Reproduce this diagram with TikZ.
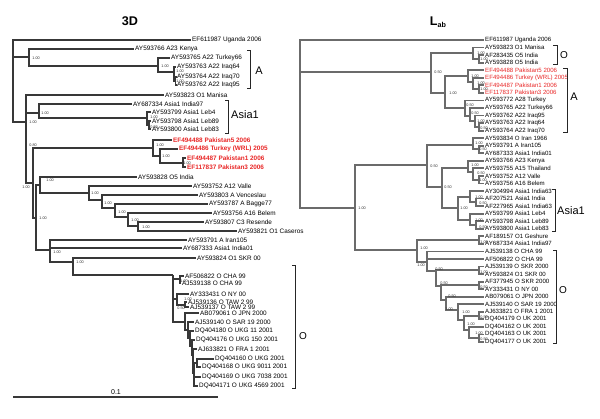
\documentclass[tikz,border=0pt]{standalone}
\usepackage{fontspec}
\setmainfont{Liberation Sans}
\usetikzlibrary{positioning}
\newcommand\leaffont{\fontsize{3.2}{3.6}\selectfont}
\newcommand\rleaffont{\fontsize{3.05}{3.4}\selectfont}
\newcommand\supfont{\fontsize{1.9}{2.2}\selectfont}
\definecolor{pakred}{RGB}{232,38,38}
\tikzset{
  branch/.style={draw=black!78,line width=0.65pt},
  rbranch/.style={draw=black!58,line width=0.9pt},
  leaf/.style={anchor=west,inner sep=0.4pt,font=\leaffont},
  rleaf/.style={anchor=west,inner sep=0.4pt,font=\rleaffont},
  newleaf/.style={leaf,text=pakred,font=\leaffont\bfseries},
  rnewleaf/.style={rleaf,text=pakred},
  sup/.style={anchor=west,inner sep=0pt,font=\supfont,text=black!80},
  bracket/.style={draw=black!85,line width=0.5pt},
  clade/.style={font=\fontsize{5.5}{6}\selectfont,inner sep=0pt},
  title/.style={font=\fontsize{6.3}{7}\selectfont\bfseries}
}
\begin{document}
\begin{tikzpicture}[x=0.5pt,y=-0.5pt]
  \useasboundingbox (0,0) rectangle (600,418);
  \node[title] (t3d) at (130,21) {3D};
  \node[title] (tlab) at (438,22) {L\raisebox{-0.9pt}{\fontsize{3.6}{4}\selectfont ab}};

  % 3D tree, leaves
  \node[leaf] (l1) at (191,40) {EF611987 Uganda 2006};
  \node[leaf] (l2) at (134,49) {AY593766 A23 Kenya};
  \node[leaf] (l3) at (170,58) {AY593765 A22 Turkey66};
  \node[leaf] (l4) at (176,67) {AY593763 A22 Iraq64};
  \node[leaf] (l5) at (176,77) {AY593764 A22 Iraq70};
  \node[leaf] (l6) at (176,85) {AY593762 A22 Iraq95};
  \node[leaf] (l7) at (164,95) {AY593823 O1 Manisa};
  \node[leaf] (l8) at (132,104) {AY687334 Asia1 India97};
  \node[leaf] (l9) at (151,112) {AY593799 Asia1 Leb4};
  \node[leaf] (l10) at (151,121) {AY593798 Asia1 Leb89};
  \node[leaf] (l11) at (151,129) {AY593800 Asia1 Leb83};
  \node[newleaf] (l12) at (172,140) {EF494488 Pakistan5 2006};
  \node[newleaf] (l13) at (178,149) {EF494486 Turkey (WRL) 2005};
  \node[newleaf] (l14) at (186,158) {EF494487 Pakistan1 2006};
  \node[newleaf] (l15) at (186,167) {EF117837 Pakistan3 2006};
  \node[leaf] (l16) at (137,177) {AY593828 O5 India};
  \node[leaf] (l17) at (192,186) {AY593752 A12 Valle};
  \node[leaf] (l18) at (198,195) {AY593803 A Venceslau};
  \node[leaf] (l19) at (208,204) {AY593787 A Bagge77};
  \node[leaf] (l20) at (212,213) {AY593756 A16 Belem};
  \node[leaf] (l21) at (204,222) {AY593807 C3 Resende};
  \node[leaf] (l22) at (237,231) {AY593821 O1 Caseros};
  \node[leaf] (l23) at (187,240) {AY593791 A Iran105};
  \node[leaf] (l24) at (182,248) {AY687333 Asia1 India01};
  \node[leaf] (l25) at (196,258) {AY593824 O1 SKR 00};
  \node[leaf] (l26) at (184,276) {AF506822 O CHA 99};
  \node[leaf] (l27) at (181,283) {AJ539138 O CHA 99};
  \node[leaf] (l28) at (189,294) {AY333431 O NY 00};
  \node[leaf] (l29) at (187,302) {AJ539136 O TAW 2 99};
  \node[leaf] (l30) at (189,307) {AJ539137 O TAW 2 99};
  \node[leaf] (l31) at (199,313) {AB079061 O JPN 2000};
  \node[leaf] (l32) at (194,322) {AJ539140 O SAR 19 2000};
  \node[leaf] (l33) at (194,331) {DQ404180 O UKG 11 2001};
  \node[leaf] (l34) at (195,340) {DQ404176 O UKG 150 2001};
  \node[leaf] (l35) at (197,349) {AJ633821 O FRA 1 2001};
  \node[leaf] (l36) at (214,359) {DQ404160 O UKG 2001};
  \node[leaf] (l37) at (201,367) {DQ404168 O UKG 9011 2001};
  \node[leaf] (l38) at (201,377) {DQ404169 O UKG 7038 2001};
  \node[leaf] (l39) at (198,386) {DQ404171 O UKG 4569 2001};

  % 3D tree, inner nodes
  \coordinate (L0) at (13,80);
  \coordinate (K) at (29,57);
  \coordinate (Q1) at (158,66);
  \coordinate (Q2) at (174,72);
  \coordinate (Q3) at (175.5,81);
  \coordinate (N1) at (26,122);
  \coordinate (A1) at (39,113);
  \coordinate (A1b) at (147,118);
  \coordinate (A1c) at (149,125);
  \coordinate (N2) at (33,183);
  \coordinate (P) at (153,148);
  \coordinate (P2) at (160,156);
  \coordinate (P3) at (183,163);
  \coordinate (N2b) at (36,218);
  \coordinate (N3) at (40,185);
  \coordinate (N4) at (89,193);
  \coordinate (N5) at (102,200);
  \coordinate (N6) at (115,208);
  \coordinate (N7) at (128,217);
  \coordinate (N8) at (138,226);
  \coordinate (N9) at (50,250);
  \coordinate (N10) at (73,262);
  \coordinate (N11) at (173,275);
  \coordinate (Oa) at (180,279);
  \coordinate (Ob) at (177,299);
  \coordinate (Ob2) at (185,305);
  \coordinate (Oc) at (185,322);
  \coordinate (Od) at (188,330);
  \coordinate (Oe) at (190,338);
  \coordinate (Of) at (192,346);
  \coordinate (Og) at (193,355);
  \coordinate (Oh) at (194,373);
  \coordinate (Oi) at (197,363);

  \draw[branch]
    (L0) |- (l1.west) (L0) |- (K) (L0) |- (N1)
    (K) |- (l2.west) (K) |- (Q1)
    (Q1) |- (l3.west) (Q1) |- (Q2)
    (Q2) |- (l4.west) (Q2) |- (Q3)
    (Q3) |- (l5.west) (Q3) |- (l6.west)
    (N1) |- (l7.west) (N1) |- (A1) (N1) |- (N2)
    (A1) |- (l8.west) (A1) |- (A1b)
    (A1b) |- (l9.west) (A1b) |- (A1c)
    (A1c) |- (l10.west) (A1c) |- (l11.west)
    (N2) |- (P) (N2) |- (N2b)
    (P) |- (l12.west) (P) |- (P2)
    (P2) |- (l13.west) (P2) |- (P3)
    (P3) |- (l14.west) (P3) |- (l15.west)
    (N2b) |- (N3) (N2b) |- (N9)
    (N3) |- (l16.west) (N3) |- (N4)
    (N4) |- (l17.west) (N4) |- (N5)
    (N5) |- (l18.west) (N5) |- (N6)
    (N6) |- (l19.west) (N6) |- (N7)
    (N7) |- (l20.west) (N7) |- (N8)
    (N8) |- (l21.west) (N8) |- (l22.west)
    (N9) |- (l23.west) (N9) |- (l24.west) (N9) |- (N10)
    (N10) |- (l25.west) (N10) |- (N11)
    (N11) |- (Oa) (N11) |- (Ob) (N11) |- (Oc)
    (Oa) |- (l26.west) (Oa) |- (l27.west)
    (Ob) |- (l28.west) (Ob) |- (Ob2)
    (Ob2) |- (l29.west) (Ob2) |- (l30.west)
    (Oc) |- (l31.west) (Oc) |- (Od)
    (Od) |- (l32.west) (Od) |- (Oe)
    (Oe) |- (l33.west) (Oe) |- (Of)
    (Of) |- (l34.west) (Of) |- (Og)
    (Og) |- (l35.west) (Og) |- (Oh)
    (Oh) |- (Oi) (Oh) |- (l38.west) (Oh) |- (l39.west)
    (Oi) |- (l36.west) (Oi) |- (l37.west);

  % 3D tree, support values
  \node[sup] (s1) at (32,58) {1.00};
  \node[sup] (s2) at (161,66) {1.00};
  \node[sup] (s3) at (176,71) {1.00};
  \node[sup] (s4) at (176,81) {1.00};
  \node[sup] (s5) at (29,122) {1.00};
  \node[sup] (s6) at (41,113) {1.00};
  \node[sup] (s7) at (150,117) {1.00};
  \node[sup] (s8) at (150,127) {0.50};
  \node[sup] (s9) at (29,145) {0.80};
  \node[sup] (s10) at (156,145) {1.00};
  \node[sup] (s11) at (162,156) {1.00};
  \node[sup] (s12) at (183,163) {1.00};
  \node[sup] (s13) at (22,187) {1.00};
  \node[sup] (s14) at (46,180) {1.00};
  \node[sup] (s15) at (91,193) {1.00};
  \node[sup] (s16) at (104,203) {1.00};
  \node[sup] (s17) at (118,212) {1.00};
  \node[sup] (s18) at (131,220) {1.00};
  \node[sup] (s19) at (142,227) {1.00};
  \node[sup] (s20) at (39,218) {1.00};
  \node[sup] (s21) at (53,252) {1.00};
  \node[sup] (s22) at (76,262) {1.00};
  \node[sup] (s23) at (180,281) {1.00};
  \node[sup] (s24) at (184,299) {1.00};
  \node[sup] (s25) at (177,308) {0.50};

  % 3D tree, clades and scale
  \draw[bracket] (247,50) -- (250,50) -- (250,88) -- (247,88);
  \node[clade] (cA) at (259,71) {A};
  \draw[bracket] (225,100) -- (228,100) -- (228,133) -- (225,133);
  \node[clade] (cAsia) at (245,115) {Asia1};
  \draw[bracket] (292,265) -- (295,265) -- (295,388) -- (292,388);
  \node[clade,font=\fontsize{5}{6}\selectfont] (cO) at (303,336) {O};
  \coordinate (sb1) at (13,397);
  \coordinate (sb2) at (218,397);
  \draw[branch] (sb1) -- (sb2);
  \node[font=\fontsize{3.5}{4}\selectfont,inner sep=0pt] (sbl) at (116,392) {0.1};

  % Lab tree, leaves
  \node[rleaf] (r1) at (484,40) {EF611987 Uganda 2006};
  \node[rleaf] (r2) at (484,47.5) {AY593823 O1 Manisa};
  \node[rleaf] (r3) at (484,55.1) {AF283435 O5 India};
  \node[rleaf] (r4) at (484,62.6) {AY593828 O5 India};
  \node[rnewleaf] (r5) at (484,70.2) {EF494488 Pakistan5 2006};
  \node[rnewleaf] (r6) at (484,77.7) {EF494486 Turkey (WRL) 2005};
  \node[rnewleaf] (r7) at (484,85.3) {EF494487 Pakistan1 2006};
  \node[rnewleaf] (r8) at (484,92.8) {EF117837 Pakistan3 2006};
  \node[rleaf] (r9) at (484,100.4) {AY593772 A28 Turkey};
  \node[rleaf] (r10) at (484,108) {AY593765 A22 Turkey66};
  \node[rleaf] (r11) at (484,115.5) {AY593762 A22 Iraq95};
  \node[rleaf] (r12) at (484,123) {AY593763 A22 Iraq64};
  \node[rleaf] (r13) at (484,130.6) {AY593764 A22 Iraq70};
  \node[rleaf] (r14) at (484,138.1) {AY593834 O Iran 1966};
  \node[rleaf] (r15) at (484,145.7) {AY593791 A Iran105};
  \node[rleaf] (r16) at (484,153.2) {AY687333 Asia1 India01};
  \node[rleaf] (r17) at (484,160.8) {AY593766 A23 Kenya};
  \node[rleaf] (r18) at (484,168.3) {AY593755 A15 Thailand};
  \node[rleaf] (r19) at (484,175.9) {AY593752 A12 Valle};
  \node[rleaf] (r20) at (484,183.4) {AY593756 A16 Belem};
  \node[rleaf] (r21) at (484,191) {AY304994 Asia1 India63};
  \node[rleaf] (r22) at (484,198.5) {AF207521 Asia1 India};
  \node[rleaf] (r23) at (484,206.1) {AF227965 Asia1 India63};
  \node[rleaf] (r24) at (484,213.6) {AY593799 Asia1 Leb4};
  \node[rleaf] (r25) at (484,221.2) {AY593798 Asia1 Leb89};
  \node[rleaf] (r26) at (484,228.7) {AY593800 Asia1 Leb83};
  \node[rleaf] (r27) at (484,236.3) {AF189157 O1 Geshure};
  \node[rleaf] (r28) at (484,243.8) {AY687334 Asia1 India97};
  \node[rleaf] (r29) at (484,251.4) {AJ539138 O CHA 99};
  \node[rleaf] (r30) at (484,258.9) {AF506822 O CHA 99};
  \node[rleaf] (r31) at (484,266.5) {AJ539139 O SKR 2000};
  \node[rleaf] (r32) at (484,274) {AY593824 O1 SKR 00};
  \node[rleaf] (r33) at (484,281.6) {AF377945 O SKR 2000};
  \node[rleaf] (r34) at (484,289.1) {AY333431 O NY 00};
  \node[rleaf] (r35) at (484,296.7) {AB079061 O JPN 2000};
  \node[rleaf] (r36) at (484,304.2) {AJ539140 O SAR 19 2000};
  \node[rleaf] (r37) at (484,311.8) {AJ633821 O FRA 1 2001};
  \node[rleaf] (r38) at (484,319.3) {DQ404179 O UK 2001};
  \node[rleaf] (r39) at (484,326.9) {DQ404162 O UK 2001};
  \node[rleaf] (r40) at (484,334.4) {DQ404163 O UK 2001};
  \node[rleaf] (r41) at (484,342) {DQ404177 O UK 2001};

  % Lab tree, inner nodes
  \coordinate (R0) at (300,120);
  \coordinate (R1) at (431,72);
  \coordinate (Ot) at (473,53);
  \coordinate (Ot2) at (479,59);
  \coordinate (RA) at (445,93);
  \coordinate (Pk) at (468,76);
  \coordinate (Pk2) at (473,82);
  \coordinate (Pk3) at (479,89);
  \coordinate (Aa) at (465,108);
  \coordinate (Aa2) at (470,116);
  \coordinate (Aa3) at (475,121);
  \coordinate (Aa4) at (479,127);
  \coordinate (R2) at (355,208);
  \coordinate (R3) at (427,165);
  \coordinate (Ri) at (473,145);
  \coordinate (Ri2) at (479,149);
  \coordinate (R5) at (442,187);
  \coordinate (Rk) at (468,168);
  \coordinate (Rk2) at (473,172);
  \coordinate (Rk3) at (479,180);
  \coordinate (Ra) at (458,208);
  \coordinate (Ra1) at (470,197);
  \coordinate (Ra1b) at (476,202);
  \coordinate (Ra2) at (470,220);
  \coordinate (Ra2b) at (476,225);
  \coordinate (R4) at (417,250);
  \coordinate (Rg) at (479,240);
  \coordinate (R6) at (427,262);
  \coordinate (R7) at (436,271);
  \coordinate (Rs) at (479,270);
  \coordinate (R8) at (441,286);
  \coordinate (Rn) at (479,285);
  \coordinate (R9) at (446,300);
  \coordinate (R10) at (458,310);
  \coordinate (R11) at (464,320);
  \coordinate (Rf) at (479,316);
  \coordinate (R12) at (469,330);
  \coordinate (R13) at (479,338);

  \draw[rbranch]
    (R0) |- (r1.west) (R0) |- (R1) (R0) |- (R2)
    (R1) |- (Ot) (R1) |- (RA)
    (Ot) |- (r2.west) (Ot) |- (Ot2)
    (Ot2) |- (r3.west) (Ot2) |- (r4.west)
    (RA) |- (Pk) (RA) |- (Aa)
    (Pk) |- (r5.west) (Pk) |- (Pk2)
    (Pk2) |- (r6.west) (Pk2) |- (Pk3)
    (Pk3) |- (r7.west) (Pk3) |- (r8.west)
    (Aa) |- (r9.west) (Aa) |- (Aa2)
    (Aa2) |- (r10.west) (Aa2) |- (Aa3)
    (Aa3) |- (r11.west) (Aa3) |- (Aa4)
    (Aa4) |- (r12.west) (Aa4) |- (r13.west)
    (R2) |- (R3) (R2) |- (R4)
    (R3) |- (Ri) (R3) |- (R5)
    (Ri) |- (r14.west) (Ri) |- (Ri2)
    (Ri2) |- (r15.west) (Ri2) |- (r16.west)
    (R5) |- (Rk) (R5) |- (Ra)
    (Rk) |- (r17.west) (Rk) |- (Rk2)
    (Rk2) |- (r18.west) (Rk2) |- (Rk3)
    (Rk3) |- (r19.west) (Rk3) |- (r20.west)
    (Ra) |- (Ra1) (Ra) |- (Ra2)
    (Ra1) |- (r21.west) (Ra1) |- (Ra1b)
    (Ra1b) |- (r22.west) (Ra1b) |- (r23.west)
    (Ra2) |- (r24.west) (Ra2) |- (Ra2b)
    (Ra2b) |- (r25.west) (Ra2b) |- (r26.west)
    (R4) |- (Rg) (R4) |- (R6)
    (Rg) |- (r27.west) (Rg) |- (r28.west)
    (R6) |- (r29.west) (R6) |- (r30.west) (R6) |- (R7)
    (R7) |- (Rs) (R7) |- (R8)
    (Rs) |- (r31.west) (Rs) |- (r32.west)
    (R8) |- (Rn) (R8) |- (R9)
    (Rn) |- (r33.west) (Rn) |- (r34.west)
    (R9) |- (r35.west) (R9) |- (R10)
    (R10) |- (r36.west) (R10) |- (R11)
    (R11) |- (Rf) (R11) |- (R12)
    (Rf) |- (r37.west) (Rf) |- (r38.west)
    (R12) |- (r39.west) (R12) |- (R13)
    (R13) |- (r40.west) (R13) |- (r41.west);

  % Lab tree, support values
  \node[sup] (u1) at (434,72) {0.50};
  \node[sup] (u2) at (477,53) {1.00};
  \node[sup] (u3) at (480,59) {1.00};
  \node[sup] (u4) at (449,93) {1.00};
  \node[sup] (u5) at (471,76) {1.00};
  \node[sup] (u6) at (477,83) {1.00};
  \node[sup] (u7) at (480,89) {1.00};
  \node[sup] (u8) at (466,105) {0.50};
  \node[sup] (u9) at (471,113) {0.50};
  \node[sup] (u10) at (477,121) {1.00};
  \node[sup] (u11) at (480,128) {0.50};
  \node[sup] (u12) at (358,208) {1.00};
  \node[sup] (u13) at (430,166) {0.50};
  \node[sup] (u14) at (475,143) {1.00};
  \node[sup] (u15) at (479,149) {0.50};
  \node[sup] (u16) at (444,187) {0.50};
  \node[sup] (u17) at (471,165) {1.00};
  \node[sup] (u18) at (477,173) {0.50};
  \node[sup] (u19) at (479,180) {1.00};
  \node[sup] (u20) at (460,208) {1.00};
  \node[sup] (u21) at (475,197) {1.00};
  \node[sup] (u22) at (479,203) {0.50};
  \node[sup] (u23) at (475,220) {1.00};
  \node[sup] (u24) at (479,227) {0.50};
  \node[sup] (u25) at (420,248) {1.00};
  \node[sup] (u26) at (480,242) {1.00};
  \node[sup] (u27) at (417,265) {1.00};
  \node[sup] (u28) at (435,269) {0.50};
  \node[sup] (u29) at (480,272) {1.00};
  \node[sup] (u30) at (440,283) {0.50};
  \node[sup] (u31) at (480,287) {0.50};
  \node[sup] (u32) at (448,296) {0.50};
  \node[sup] (u33) at (445,309) {1.00};
  \node[sup] (u34) at (462,312) {1.00};
  \node[sup] (u35) at (480,317) {0.50};
  \node[sup] (u36) at (467,324) {1.00};
  \node[sup] (u37) at (475,333) {1.00};
  \node[sup] (u38) at (480,339) {0.50};

  % Lab tree, clades
  \draw[bracket] (553,45) -- (557,45) -- (557,64) -- (553,64);
  \node[clade,font=\fontsize{5}{6}\selectfont] (dO1) at (564,55) {O};
  \draw[bracket] (563,68) -- (567,68) -- (567,132) -- (563,132);
  \node[clade] (dA) at (574,97) {A};
  \draw[bracket] (552,189) -- (555,189) -- (555,231) -- (552,231);
  \node[clade] (dAsia) at (571,211) {Asia1};
  \draw[bracket] (553,250) -- (556,250) -- (556,343) -- (553,343);
  \node[clade,font=\fontsize{5}{6}\selectfont] (dO2) at (563,290) {O};
\end{tikzpicture}
\end{document}
